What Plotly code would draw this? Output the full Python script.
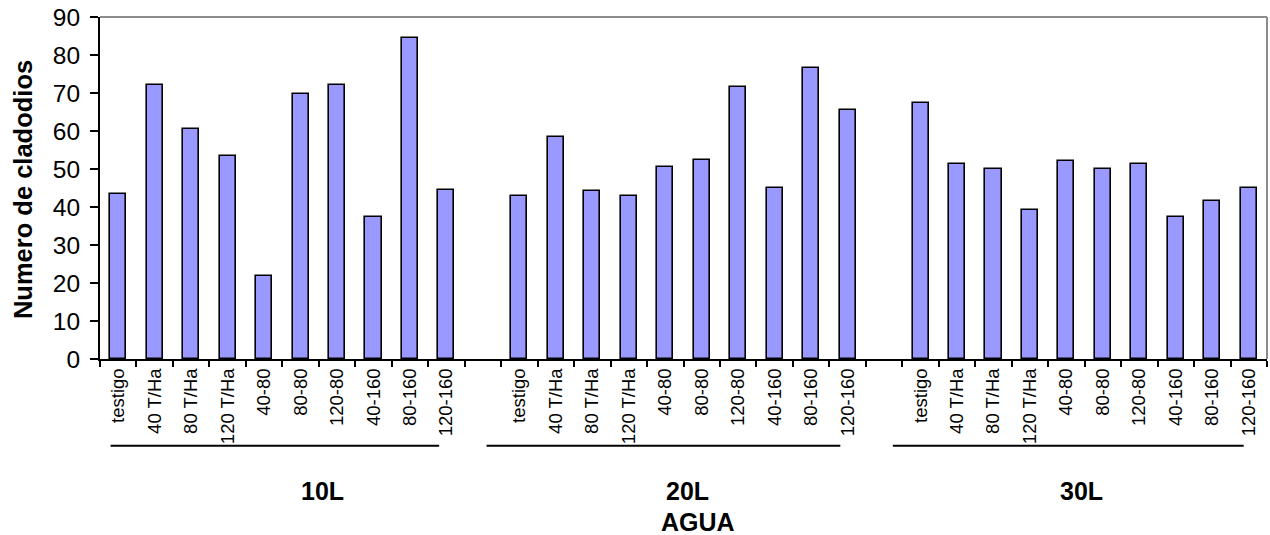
import plotly.graph_objects as go

# Treatments within each water level
tratamientos = ["testigo", "40 T/Ha", "80 T/Ha", "120 T/Ha", "40-80", "80-80",
                "120-80", "40-160", "80-160", "120-160"]
niveles_agua = ["10L", "20L", "30L"]

cladodios_10L = [43.3, 72.0, 60.6, 53.4, 21.8, 69.8, 72.0, 37.4, 84.5, 44.6]
cladodios_20L = [42.9, 58.4, 44.1, 42.9, 50.4, 52.5, 71.5, 44.9, 76.6, 65.6]
cladodios_30L = [67.3, 51.3, 50.0, 39.1, 52.1, 50.0, 51.3, 37.4, 41.6, 45.0]

series = [cladodios_10L, cladodios_20L, cladodios_30L]

# one empty slot between water levels
x_pos, y_val, x_lab = [], [], []
for g, vals in enumerate(series):
    for i, v in enumerate(vals):
        x_pos.append(g * 11 + i)
        y_val.append(v)
        x_lab.append(tratamientos[i])

FONT = "Liberation Sans, Arial, sans-serif"

fig = go.Figure(go.Bar(
    x=x_pos, y=y_val, width=0.44,
    marker=dict(color="#9999FF", line=dict(color="black", width=1.6)),
    showlegend=False, hoverinfo="x+y",
))

fig.update_layout(
    width=1270, height=535,
    margin=dict(l=100, r=3, t=17, b=176),
    paper_bgcolor="white", plot_bgcolor="white",
    font=dict(family=FONT, color="black"),
    bargap=0,
)

fig.update_xaxes(
    range=[-0.5, 31.5], tickmode="array", tickvals=x_pos, ticktext=x_lab,
    tickangle=-90, ticks="", tickfont=dict(size=18.5, family=FONT),
    showline=True, linecolor="black", linewidth=2, showgrid=False, zeroline=False,
    minor=dict(tickmode="linear", tick0=-0.5, dtick=1, ticks="outside",
               ticklen=6, tickwidth=1.5, tickcolor="black", showgrid=False),
)
fig.update_yaxes(
    range=[0, 90], dtick=10, ticks="outside", ticklen=8, tickwidth=1.5,
    tickcolor="black", tickfont=dict(size=24.5, family=FONT),
    showline=True, linecolor="black", linewidth=2, showgrid=False, zeroline=False,
    ticklabelstandoff=5,
)

# plot-area frame on top and right
fig.add_shape(type="line", xref="paper", yref="paper", x0=0, x1=1, y0=1, y1=1,
              line=dict(color="#8c8c8c", width=2))
fig.add_shape(type="line", xref="paper", yref="paper", x0=1, x1=1, y0=0, y1=1,
              line=dict(color="#8c8c8c", width=2))

# brackets under each water level
group_spans = [(-0.21, 8.8), (10.1, 19.8), (21.24, 30.86)]
for x0, x1 in group_spans:
    fig.add_shape(type="line", xref="x", yref="paper", x0=x0, x1=x1,
                  y0=-0.254, y1=-0.254, line=dict(color="black", width=2))

label_x = [5.6, 15.6, 26.4]
for nivel, lx in zip(niveles_agua, label_x):
    fig.add_annotation(text="<b>" + nivel + "</b>", x=lx, xref="x",
                       y=-0.386, yref="paper", showarrow=False,
                       font=dict(size=25, family=FONT), yanchor="middle")

fig.add_annotation(text="<b>AGUA</b>", x=15.9, xref="x", y=-0.478, yref="paper",
                   showarrow=False, font=dict(size=25, family=FONT), yanchor="middle")

fig.add_annotation(text="<b>Numero de cladodios</b>", x=-0.0665, xref="paper",
                   xanchor="center", y=0.495, yref="paper", showarrow=False,
                   textangle=-90, font=dict(size=25.5, family=FONT))

fig.write_html("out.html")
